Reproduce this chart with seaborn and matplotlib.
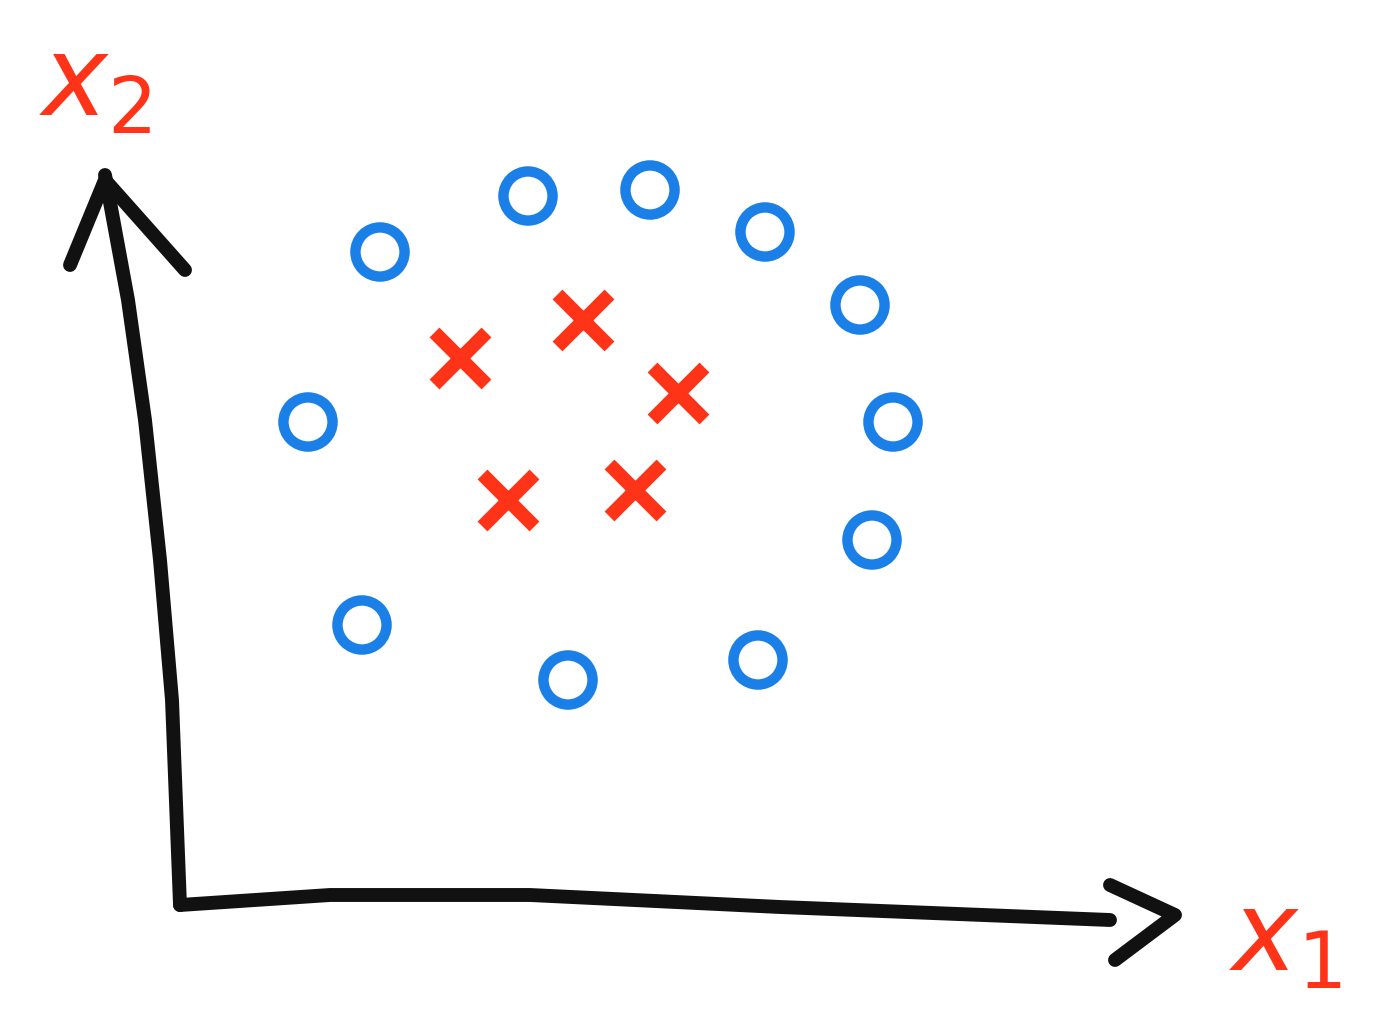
import numpy as np
import pandas as pd
import seaborn as sns
import matplotlib.pyplot as plt

# point positions, origin at the axis corner
circle_x1 = [2.00, 3.48, 4.70, 5.85, 6.80, 1.28, 7.13, 6.92, 1.82, 3.88, 5.78]
circle_x2 = [6.53, 7.09, 7.15, 6.73, 6.00, 4.83, 4.83, 3.65, 2.80, 2.25, 2.45]
cross_x1 = [2.80, 4.03, 4.98, 3.28, 4.55]
cross_x2 = [5.47, 5.85, 5.12, 4.05, 4.15]

blue = '#1a7fe6'
red = '#ff3318'
ink = '#111111'

sns.set_style('white')
fig = plt.figure(figsize=(14, 10.27), dpi=100)
ax = fig.add_axes([0, 0, 1, 1])
ax.set_xlim(-1.8, 12.2)
ax.set_ylim(-1.22, 9.05)
ax.axis('off')

circles = pd.DataFrame({'x1': circle_x1, 'x2': circle_x2})
crosses = pd.DataFrame({'x1': cross_x1, 'x2': cross_x2})

sns.scatterplot(data=circles, x='x1', y='x2', ax=ax, marker='o', s=1250,
                facecolor='none', edgecolor=blue, linewidth=7.5)
sns.scatterplot(data=crosses, x='x1', y='x2', ax=ax, marker='x', s=1400,
                color=red, linewidth=10)

# hand-drawn style axes
line_kw = dict(color=ink, lw=10, solid_capstyle='round', solid_joinstyle='round')
ax.plot([0, -0.08, -0.2, -0.35, -0.52, -0.75],
        [0, 2.05, 3.45, 4.85, 6.05, 7.3], **line_kw)
ax.plot([-1.1, -0.75, 0.05], [6.4, 7.25, 6.35], **line_kw)
ax.plot([0, 1.5, 3.5, 6.0, 9.3], [0, 0.1, 0.1, -0.02, -0.15], **line_kw)
ax.plot([9.3, 9.95, 9.35], [0.2, -0.1, -0.55], **line_kw)

ax.text(-0.85, 8.2, r'$x_2$', color=red, fontsize=80, ha='center', va='center')
ax.text(11.05, -0.35, r'$x_1$', color=red, fontsize=80, ha='center', va='center')

fig.savefig('out.png', dpi=100)
